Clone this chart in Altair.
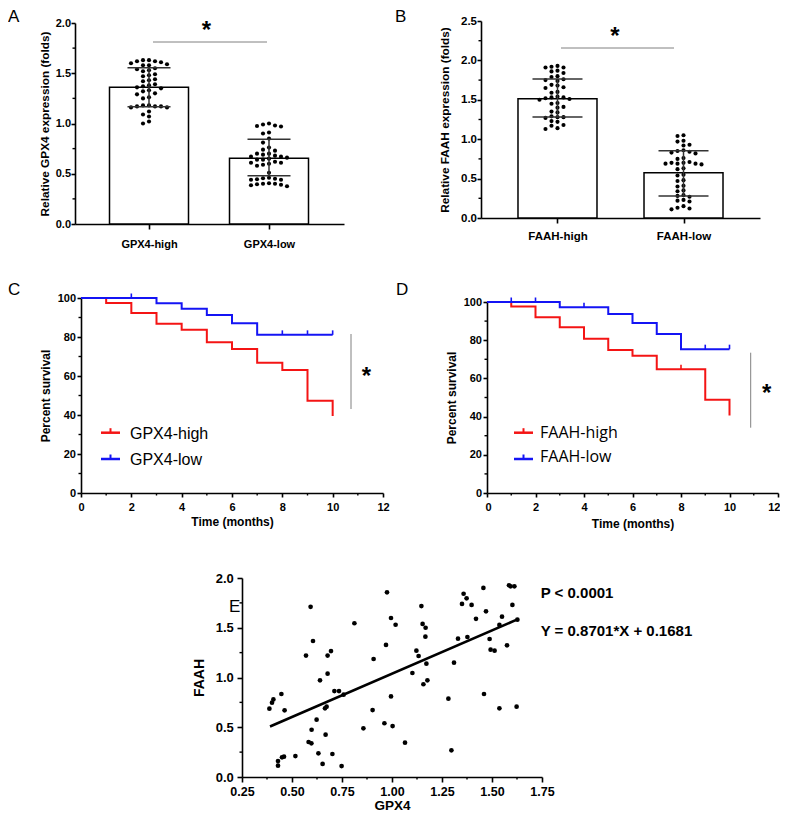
import altair as alt
import pandas as pd

# ================= values =================
# Panel A
gpx4_groups = ["GPX4-high", "GPX4-low"]
gpx4_mean = [1.36, 0.655]
gpx4_sd_lo = [1.167, 0.480]
gpx4_sd_hi = [1.555, 0.843]
gpx4_high_pts = [1.63, 1.63, 1.62, 1.62, 1.61, 1.60, 1.59, 1.58, 1.58,
                 1.55, 1.54, 1.53, 1.52, 1.49, 1.48, 1.47, 1.44, 1.43, 1.42,
                 1.39, 1.38, 1.37, 1.36, 1.35, 1.33, 1.32, 1.30, 1.29, 1.26, 1.25,
                 1.18, 1.17, 1.17, 1.16, 1.16, 1.17, 1.18, 1.12, 1.09, 1.07, 1.00, 1.02]
gpx4_low_pts = [1.00, 0.99, 0.97, 0.975, 0.98, 0.91, 0.90, 0.85, 0.81, 0.76, 0.73, 0.74,
                0.70, 0.70, 0.69, 0.68, 0.65, 0.67, 0.66, 0.67, 0.64, 0.64,
                0.61, 0.60, 0.58, 0.61, 0.59, 0.62, 0.51,
                0.455, 0.44, 0.44, 0.445, 0.45, 0.46, 0.40, 0.395, 0.40, 0.405, 0.375, 0.39, 0.385]

# Panel B
faah_groups = ["FAAH-high", "FAAH-low"]
faah_mean = [1.514, 0.575]
faah_sd_lo = [1.282, 0.279]
faah_sd_hi = [1.764, 0.854]
faah_high_pts = [1.93, 1.92, 1.91, 1.91, 1.87, 1.86, 1.84, 1.80, 1.79, 1.76, 1.75, 1.74,
                 1.69, 1.68, 1.66, 1.65, 1.60, 1.59, 1.54, 1.53, 1.52, 1.51, 1.50, 1.53,
                 1.46, 1.45, 1.41, 1.40, 1.35, 1.34, 1.29, 1.28, 1.27, 1.28, 1.23, 1.22,
                 1.18, 1.17, 1.14, 1.13]
faah_low_pts = [1.05, 1.04, 0.98, 0.97, 0.93, 0.92, 0.86, 0.85, 0.84, 0.83, 0.82,
                0.76, 0.75, 0.71, 0.70, 0.70, 0.69, 0.69, 0.68, 0.69, 0.63, 0.62,
                0.55, 0.54, 0.48, 0.47, 0.41, 0.40, 0.35, 0.34, 0.29, 0.28, 0.27,
                0.23, 0.22, 0.21, 0.15, 0.13, 0.12, 0.11]

# Panel C (Kaplan-Meier, GPX4)
c_labels = ["GPX4-high", "GPX4-low"]
c_high_time = [0, 1, 2, 3, 4, 5, 6, 7, 8, 9, 10]
c_high_surv = [100, 97.5, 92.3, 86.8, 83.7, 77.3, 73.8, 66.8, 63.1, 47.3, 39.5]
c_high_cens_time = []
c_high_cens_surv = []
c_low_time = [0, 3, 4, 5, 6, 7, 10]
c_low_surv = [100, 97.3, 94.5, 91.3, 87.0, 81.1, 81.1]
c_low_cens_time = [2, 8, 9, 10]
c_low_cens_surv = [100, 81.1, 81.1, 81.1]

# Panel D (Kaplan-Meier, FAAH)
d_labels = ["FAAH-high", "FAAH-low"]
d_high_time = [0, 1, 2, 3, 4, 5, 6, 7, 9, 10]
d_high_surv = [100, 97.6, 92.0, 86.8, 80.7, 74.9, 71.8, 64.8, 48.8, 40.6]
d_high_cens_time = [8]
d_high_cens_surv = [64.8]
d_low_time = [0, 3, 5, 6, 7, 8, 10]
d_low_surv = [100, 97.2, 93.7, 89.0, 83.3, 75.3, 75.3]
d_low_cens_time = [1, 2, 4, 9, 10]
d_low_cens_surv = [100, 100, 97.2, 75.3, 75.3]

# Panel E (correlation)
e_gpx4 = [0.387, 0.40, 0.407, 0.447, 0.463, 0.43, 0.43, 0.45, 0.46, 0.517,
          0.57, 0.593, 0.605, 0.583, 0.597, 0.598, 0.623, 0.632, 0.64, 0.653,
          0.668, 0.665, 0.673, 0.678, 0.678, 0.695, 0.702, 0.712, 0.735, 0.748,
          0.758, 0.812, 0.857, 0.903, 0.908, 0.962, 0.97, 0.975, 0.995, 0.995,
          1.003, 1.018, 1.065, 1.102, 1.122, 1.133, 1.147, 1.153, 1.168, 1.167,
          1.172, 1.157, 1.177, 1.282, 1.297, 1.31, 1.33, 1.35, 1.358, 1.373, 1.377,
          1.398, 1.42, 1.457, 1.47, 1.46, 1.488, 1.493, 1.513, 1.537, 1.55, 1.537,
          1.575, 1.585, 1.593, 1.612, 1.602, 1.627, 1.623]
e_faah = [0.687, 0.747, 0.78, 0.834, 0.67, 0.16, 0.114, 0.198, 0.204, 0.21,
          1.22, 1.71, 1.367, 0.352, 0.338, 0.475, 0.576, 0.238, 0.972, 0.131,
          0.425, 0.69, 0.707, 1.038, 1.22, 1.266, 0.231, 0.864, 0.864, 0.11,
          0.827, 1.545, 0.489, 0.673, 1.186, 0.54, 1.327, 1.856, 1.598, 0.81,
          0.512, 1.53, 0.345, 1.045, 1.27, 1.216, 1.718, 1.538, 1.5, 1.41,
          1.139, 0.932, 0.972, 0.787, 0.268, 1.149, 1.39, 1.739, 1.842, 1.796, 1.407,
          1.729, 1.59, 1.90, 1.665, 0.834, 1.387, 1.28, 1.27, 1.528, 1.611, 0.69,
          1.323, 1.927, 1.916, 1.916, 1.729, 1.581, 0.707]
e_fit_x = [0.39, 1.627]
e_fit_y = [0.507, 1.584]
e_stats = ["P < 0.0001", "Y = 0.8701*X + 0.1681"]

# ================= styling / layout =================
W, H = 772, 804
FONT = "Liberation Sans"
BLACK = "#000000"
RED = "#f41414"
BLUE = "#1414f4"
GREY = "#808080"
ONE = pd.DataFrame({"k": [0]})


def beeswarm(vals, ppu_y, ppu_x, dx=6.0, min_dy=4.6):
    order = sorted(range(len(vals)), key=lambda i: -vals[i])
    cols = {}
    offs = [0.0] * len(vals)
    seq = [0]
    for k in range(1, 12):
        seq += [-k, k]
    for i in order:
        py = vals[i] * ppu_y
        for c in seq:
            if all(abs(py - q) >= min_dy for q in cols.get(c, [])):
                cols.setdefault(c, []).append(py)
                offs[i] = c * dx / ppu_x
                break
    return offs


def axis(orient, offset, values, fmt, title, lab_size, title_size, tick, lab_pad, title_pad,
         label_expr=None, flush=False):
    kw = dict(orient=orient, offset=offset, values=values, title=title,
              labelFont=FONT, titleFont=FONT, labelFontWeight="bold", titleFontWeight="bold",
              labelFontSize=lab_size, titleFontSize=title_size, labelColor=BLACK, titleColor=BLACK,
              tickSize=tick, labelPadding=lab_pad, titlePadding=title_pad, grid=False,
              domainColor=BLACK, tickColor=BLACK, domainWidth=1.6, tickWidth=1.6,
              labelFlush=flush, labelOverlap=False)
    if flush:
        kw["labelFlushOffset"] = 2
    if fmt:
        kw["format"] = fmt
    if label_expr:
        kw["labelExpr"] = label_expr
    return alt.Axis(**kw)


def text_layer(txt, x, y, size, bold=False, font=FONT, align="left"):
    return alt.Chart(ONE).mark_text(text=txt, font=font, fontSize=size, align=align,
                                    baseline="alphabetic", color=BLACK,
                                    fontWeight="bold" if bold else "normal").encode(
        x=alt.value(x), y=alt.value(y))


def minor_y(vals, ys, x0):
    return alt.Chart(pd.DataFrame({"m": vals})).mark_rule(color=BLACK, strokeWidth=1.4).encode(
        y=alt.Y("m:Q", scale=ys, axis=None), x=alt.value(x0), x2=alt.value(x0 - 2.5))


def minor_x(vals, xs, y0):
    return alt.Chart(pd.DataFrame({"m": vals})).mark_rule(color=BLACK, strokeWidth=1.4).encode(
        x=alt.X("m:Q", scale=xs, axis=None), y=alt.value(y0), y2=alt.value(y0 + 2.5))


def bar_panel(groups, means, sd_lo, sd_hi, pts, xdom, xr, ydom, yr, yvals, yminor,
              ytitle, lab_size, title_size, ytitle_pad, xlab_pad, cap_px, sig, star, letter):
    ppu_x = (xr[1] - xr[0]) / (xdom[1] - xdom[0])
    ppu_y = (yr[0] - yr[1]) / (ydom[1] - ydom[0])
    pos = list(range(1, len(groups) + 1))
    half = 39.5 / ppu_x
    caph = cap_px / 2 / ppu_x
    bars = pd.DataFrame({"pos": pos, "mean": means, "lo": sd_lo, "hi": sd_hi})
    bars["left"] = bars["pos"] - half
    bars["right"] = bars["pos"] + half
    bars["base"] = 0.0
    bars["cl"] = bars["pos"] - caph
    bars["cr"] = bars["pos"] + caph
    caps = pd.concat([bars.assign(cy=bars["lo"]), bars.assign(cy=bars["hi"])])
    rows = []
    for p, vals in zip(pos, pts):
        for v, o in zip(vals, beeswarm(vals, ppu_y, ppu_x)):
            rows.append({"x": p + o, "v": v})
    pdf = pd.DataFrame(rows)
    xs = alt.Scale(domain=xdom, range=xr, nice=False, zero=False)
    ys = alt.Scale(domain=ydom, range=yr, nice=False, zero=False)
    expr = "''"
    for i in reversed(range(len(groups))):
        expr = f"datum.value == {i + 1} ? '{groups[i]}' : {expr}"
    xaxis = axis("bottom", yr[0] - H, pos, None, "", lab_size, title_size, 5, xlab_pad, 0, expr)
    yaxis = axis("left", -xr[0], yvals, ".1f", ytitle, lab_size, title_size, 4, 0.5, ytitle_pad)
    return [
        alt.Chart(bars).mark_rect(fill="white", stroke=BLACK, strokeWidth=1.5).encode(
            x=alt.X("left:Q", scale=xs, axis=xaxis), x2="right",
            y=alt.Y("mean:Q", scale=ys, axis=yaxis), y2="base"),
        alt.Chart(pdf).mark_circle(size=17, color=BLACK, opacity=1).encode(
            x=alt.X("x:Q", scale=xs, axis=None), y=alt.Y("v:Q", scale=ys, axis=None)),
        alt.Chart(bars).mark_rule(color="#333333", strokeWidth=1.5).encode(
            x=alt.X("pos:Q", scale=xs, axis=None), y=alt.Y("lo:Q", scale=ys, axis=None), y2="hi"),
        alt.Chart(caps).mark_rule(color="#333333", strokeWidth=1.5).encode(
            x=alt.X("cl:Q", scale=xs, axis=None), x2="cr", y=alt.Y("cy:Q", scale=ys, axis=None)),
        minor_y(yminor, ys, xr[0]),
        alt.Chart(ONE).mark_rule(color=GREY, strokeWidth=1).encode(
            x=alt.value(sig[0]), x2=alt.value(sig[1]), y=alt.value(sig[2])),
        text_layer("*", star[0], star[1], 24, bold=True, align="center"),
        text_layer(letter[0], letter[1], letter[2], 17),
    ]


def km_panel(curves, labels, xr, yr, ytitle_pad, xtitle_pad, legend, legend_font, sig, star, letter,
             flush=False):
    xs = alt.Scale(domain=[0, 12], range=xr, nice=False, zero=False)
    ys = alt.Scale(domain=[0, 100], range=yr, nice=False, zero=False)
    ppu_y = (yr[0] - yr[1]) / 100
    xaxis = axis("bottom", yr[0] - H, list(range(0, 13, 2)), "d", "Time (months)", 11, 12, 4, 4.5,
                 xtitle_pad, flush=flush)
    yaxis = axis("left", -xr[0], list(range(0, 101, 20)), "d", "Percent survival", 11, 12, 4, 1.5, ytitle_pad)
    layers = []
    for n, (t, s, ct, cs, color) in enumerate(curves):
        df = pd.DataFrame({"t": t, "s": s})
        layers.append(alt.Chart(df).mark_line(interpolate="step-after", color=color, strokeWidth=2).encode(
            x=alt.X("t:Q", scale=xs, axis=xaxis if n == 0 else None),
            y=alt.Y("s:Q", scale=ys, axis=yaxis if n == 0 else None)))
        if ct:
            cdf = pd.DataFrame({"t": ct, "s": cs})
            cdf["s2"] = cdf["s"] + 4.5 / ppu_y
            layers.append(alt.Chart(cdf).mark_rule(color=color, strokeWidth=1.6).encode(
                x=alt.X("t:Q", scale=xs, axis=None), y=alt.Y("s:Q", scale=ys, axis=None), y2="s2"))
    layers.append(minor_y([10, 30, 50, 70, 90], ys, xr[0]))
    layers.append(minor_x([1, 3, 5, 7, 9, 11], xs, yr[0]))
    lx0, lx1, tx, ly, ty = legend
    for i, (lab, color) in enumerate(zip(labels, [c[4] for c in curves])):
        layers.append(alt.Chart(ONE).mark_rule(color=color, strokeWidth=2.5).encode(
            x=alt.value(lx0), x2=alt.value(lx1), y=alt.value(ly[i])))
        layers.append(alt.Chart(ONE).mark_rule(color=color, strokeWidth=2).encode(
            x=alt.value((lx0 + lx1) / 2), y=alt.value(ly[i]), y2=alt.value(ly[i] - 4.5)))
        layers.append(text_layer(lab, tx, ty[i], 16, font=legend_font))
    layers.append(alt.Chart(ONE).mark_rule(color=GREY, strokeWidth=1).encode(
        x=alt.value(sig[0]), y=alt.value(sig[1]), y2=alt.value(sig[2])))
    layers.append(text_layer("*", star[0], star[1], 24, bold=True, align="center"))
    layers.append(text_layer(letter[0], letter[1], letter[2], 17))
    return layers


# ---------- panels (coordinates are pixels inside the view; page = view + 8) ----------
panel_a = bar_panel(gpx4_groups, gpx4_mean, gpx4_sd_lo, gpx4_sd_hi, [gpx4_high_pts, gpx4_low_pts],
                    [0.3833, 2.625], [67, 336], [0, 2], [216, 15], [0, 0.5, 1, 1.5, 2],
                    [0.25, 0.75, 1.25, 1.75], "Relative GPX4 expression (folds)", 11, 11.8, 4.5, 9.5, 43,
                    (145, 259, 34), (198.5, 30.2), ("A", 0, 13.5))

panel_b = bar_panel(faah_groups, faah_mean, faah_sd_lo, faah_sd_hi, [faah_high_pts, faah_low_pts],
                    [0.393, 2.607], [473, 752], [0, 2.5], [210, 13], [0, 0.5, 1, 1.5, 2, 2.5],
                    [0.25, 0.75, 1.25, 1.75, 2.25], "Relative FAAH expression (folds)", 11.5, 11.8, 10.5, 7.2, 50,
                    (553, 666, 40), (607, 36.2), ("B", 387, 13.5))

panel_c = km_panel([(c_high_time, c_high_surv, c_high_cens_time, c_high_cens_surv, RED),
                    (c_low_time, c_low_surv, c_low_cens_time, c_low_cens_surv, BLUE)],
                   c_labels, [73, 375], [485, 290], 5, 4,
                   (93, 112, 122, [424.7, 451], [430.7, 457]), FONT,
                   (343, 326, 401), (358.3, 376.2), ("C", 0, 287))

panel_d = km_panel([(d_high_time, d_high_surv, d_high_cens_time, d_high_cens_surv, RED),
                    (d_low_time, d_low_surv, d_low_cens_time, d_low_cens_surv, BLUE)],
                   d_labels, [479, 770], [485, 294], 5, 6,
                   (506, 525, 532, [424.7, 451], [430.3, 453.7]), "Open Sans",
                   (742.7, 344.7, 419.7), (758.7, 393.2), ("D", 388, 287), flush=True)

# Panel E
xs_e = alt.Scale(domain=[0.25, 1.75], range=[234, 534], nice=False, zero=False)
ys_e = alt.Scale(domain=[0, 2], range=[769, 570], nice=False, zero=False)
e_xaxis = axis("bottom", 769 - H, [0.25, 0.5, 0.75, 1.0, 1.25, 1.5, 1.75], ".2f", "GPX4", 12.5, 13.5, 5, 3, 0.5)
e_yaxis = axis("left", -234, [0, 0.5, 1.0, 1.5, 2.0], ".1f", "FAAH", 13, 14, 5, 3.7, 8.7)
panel_e = [
    alt.Chart(pd.DataFrame({"g": e_gpx4, "f": e_faah})).mark_circle(size=22, color=BLACK, opacity=1).encode(
        x=alt.X("g:Q", scale=xs_e, axis=e_xaxis), y=alt.Y("f:Q", scale=ys_e, axis=e_yaxis)),
    alt.Chart(pd.DataFrame({"g": e_fit_x, "f": e_fit_y})).mark_line(color=BLACK, strokeWidth=2.6).encode(
        x=alt.X("g:Q", scale=xs_e, axis=None), y=alt.Y("f:Q", scale=ys_e, axis=None)),
    minor_y([0.25, 0.75, 1.25, 1.75], ys_e, 234),
    minor_x([0.375, 0.625, 0.875, 1.125, 1.375, 1.625], xs_e, 769),
    text_layer(e_stats[0], 532.7, 589.7, 15, bold=True),
    text_layer(e_stats[1], 532.7, 627.7, 15, bold=True),
    text_layer("E", 221, 604, 17),
]

chart = alt.layer(*(panel_a + panel_b + panel_c + panel_d + panel_e)).resolve_scale(
    x="independent", y="independent").resolve_axis(
    x="independent", y="independent").properties(
    width=W, height=H, padding=0, autosize=alt.AutoSizeParams(type="none")
).configure_view(strokeWidth=0)

chart.save("out.html", embed_options={"renderer": "svg", "actions": False})
